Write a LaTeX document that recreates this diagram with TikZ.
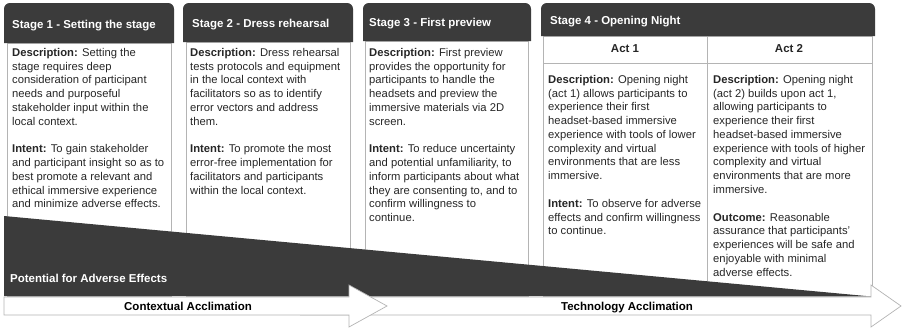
\documentclass[tikz,border=0pt]{standalone}
\usepackage{fontspec}
\setmainfont{Liberation Sans}
\definecolor{stagegray}{HTML}{3B3B3B}
\definecolor{linegray}{HTML}{B4B4B4}
\definecolor{textgray}{HTML}{262626}

\begin{document}
\begin{tikzpicture}[x=0.03cm,y=-0.03cm,
        hdr/.style={fill=stagegray},
        frame/.style={draw=linegray,line width=0.6pt},
        title/.style={anchor=base west,inner sep=0,text=white,font=\bfseries\fontsize{9.8}{11}\selectfont},
        txt/.style={anchor=north west,inner sep=0,align=left,text=textgray,font=\fontsize{9.6}{11.75}\selectfont},
        act/.style={anchor=base,inner sep=0,text=textgray,font=\bfseries\fontsize{9.8}{11}\selectfont},
        band/.style={draw=linegray,fill=white,line width=0.6pt}]
                \useasboundingbox (0,0) rectangle (903,328);
                % stage boxes
                \draw[frame] (7,43) rectangle (171,296);
                \draw[frame] (186,42) rectangle (350,296);
                \draw[frame] (365,41) rectangle (528,296);
                \draw[frame] (543,36) rectangle (872,296);
                \draw[frame] (543,63) -- (872,63);
                \draw[frame] (707,36) -- (707,296);
                \fill[hdr] (4,43) [rounded corners=5pt]-- (4,3) -- (174,3) [sharp corners]-- (174,43) -- cycle;
                \fill[hdr] (183,42) [rounded corners=5pt]-- (183,3) -- (353,3) [sharp corners]-- (353,42) -- cycle;
                \fill[hdr] (363,41) [rounded corners=5pt]-- (363,3) -- (531,3) [sharp corners]-- (531,41) -- cycle;
                \fill[hdr] (541,36) [rounded corners=5pt]-- (541,3) -- (875,3) [sharp corners]-- (875,36) -- cycle;
                \node[title] (s1) at (12,28) {Stage 1 - Setting the stage};
                \node[title] (s2) at (192,27) {Stage 2 - Dress rehearsal};
                \node[title] (s3) at (369,26) {Stage 3 - First preview};
                \node[title] (s4) at (550,24) {Stage 4 - Opening Night};
                \node[act] (a1) at (625,52) {Act 1};
                \node[act] (a2) at (789,52) {Act 2};
                % texts
                \node[txt] (t1) at (12,48) {\textbf{Description:} Setting the\\ stage requires deep\\ consideration of participant\\ needs and purposeful\\ stakeholder input within the\\ local context.\\[11.75pt]
                    \textbf{Intent:} To gain stakeholder\\ and participant insight so as to\\ best promote a relevant and\\ ethical immersive experience\\ and minimize adverse effects.};
                \node[txt] (t2) at (190,48) {\textbf{Description:} Dress rehearsal\\ tests protocols and equipment\\ in the local context with\\ facilitators so as to identify\\ error vectors and address\\ them.\\[11.75pt]
                    \textbf{Intent:} To promote the most\\ error-free implementation for\\ facilitators and participants\\ within the local context.};
                \node[txt] (t3) at (369,48) {\textbf{Description:} First preview\\ provides the opportunity for\\ participants to handle the\\ headsets and preview the\\ immersive materials via 2D\\ screen.\\[11.75pt]
                    \textbf{Intent:} To reduce uncertainty\\ and potential unfamiliarity, to\\ inform participants about what\\ they are consenting to, and to\\ confirm willingness to\\ continue.};
                \node[txt] (t4) at (548,75) {\textbf{Description:} Opening night\\ (act 1) allows participants to\\ experience their first\\ headset-based immersive\\ experience with tools of lower\\ complexity and virtual\\ environments that are less\\ immersive.\\[11.75pt]
                    \textbf{Intent:} To observe for adverse\\ effects and confirm willingness\\ to continue.};
                \node[txt] (t5) at (713,75) {\textbf{Description:} Opening night\\ (act 2) builds upon act 1,\\ allowing participants to\\ experience their first\\ headset-based immersive\\ experience with tools of higher\\ complexity and virtual\\ environments that are more\\ immersive.\\[11.75pt]
                    \textbf{Outcome:} Reasonable\\ assurance that participants'\\ experiences will be safe and\\ enjoyable with minimal\\ adverse effects.};
                % adverse effects wedge
                \fill[stagegray] (4,216) -- (866,296) -- (4,296) -- cycle;
                \node[title] (pot) at (10,282) {Potential for Adverse Effects};
                % acclimation arrows
                \draw[band] (300,297) -- (871,297) -- (871,285) -- (901,306) -- (871,327) -- (871,315) -- (300,315);
                \draw[band] (4,297) -- (349,297) -- (349,285) -- (387,306) -- (349,327) -- (349,315) -- (4,315) -- cycle;
                \node[act,text=black] (ctx) at (188,310) {Contextual Acclimation};
                \node[act,text=black] (tech) at (627,310) {Technology Acclimation};
            \end{tikzpicture}
\end{document}
